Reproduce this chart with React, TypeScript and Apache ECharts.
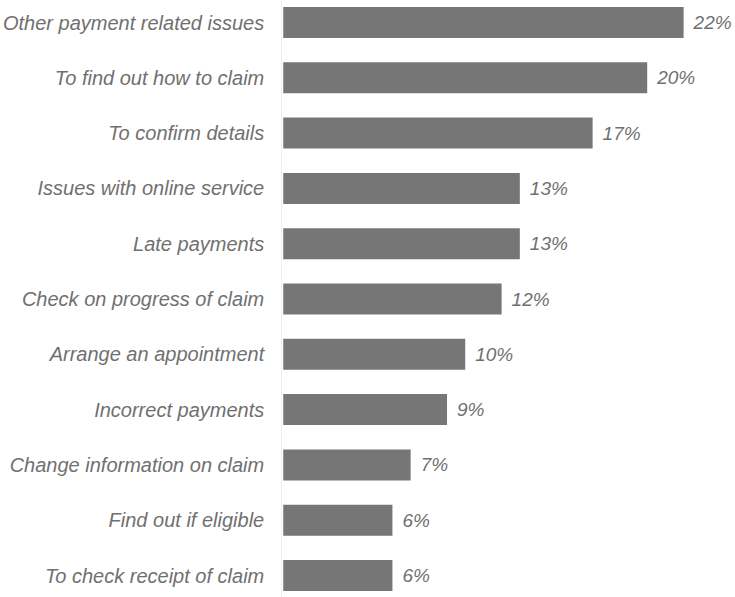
import React, { useEffect, useRef } from "react";
import * as echarts from "echarts";

const categories = [
  "Other payment related issues",
  "To find out how to claim",
  "To confirm details",
  "Issues with online service",
  "Late payments",
  "Check on progress of claim",
  "Arrange an appointment",
  "Incorrect payments",
  "Change information on claim",
  "Find out if eligible",
  "To check receipt of claim",
];
const values = [22, 20, 17, 13, 13, 12, 10, 9, 7, 6, 6];

export default function App() {
  const ref = useRef<HTMLDivElement>(null);
  useEffect(() => {
    if (!ref.current) return;
    const chart = echarts.init(ref.current, null, { renderer: "svg" });
    const font = "'Liberation Sans', Arial, Helvetica, sans-serif";
    chart.setOption({
      animation: false,
      backgroundColor: "#ffffff",
      grid: { left: 282, width: 438, top: 22.5, height: 553 },
      xAxis: {
        type: "value",
        min: 0,
        max: 24,
        show: false,
      },
      yAxis: {
        type: "category",
        data: categories,
        inverse: true,
        boundaryGap: false,
        axisLine: { show: false },
        axisTick: { show: false },
        axisLabel: {
          fontFamily: font,
          fontStyle: "italic",
          fontSize: 20,
          color: "#707070",
          margin: 19,
        },
      },
      graphic: [
        {
          type: "line",
          shape: { x1: 281.5, y1: 0, x2: 281.5, y2: 597 },
          style: { stroke: "#f0f0f0", lineWidth: 1 },
          silent: true,
        },
      ],
      series: [
        {
          type: "bar",
          data: values,
          barWidth: 31,
          itemStyle: { color: "#767676" },
          label: {
            show: true,
            position: "right",
            distance: 10,
            formatter: "{c}%",
            fontFamily: font,
            fontStyle: "italic",
            fontSize: 19,
            color: "#707070",
          },
        },
      ],
    });
    return () => chart.dispose();
  }, []);
  return (
    <div
      ref={ref}
      style={{ position: "absolute", left: 0, top: 0, width: 735, height: 597 }}
    />
  );
}
